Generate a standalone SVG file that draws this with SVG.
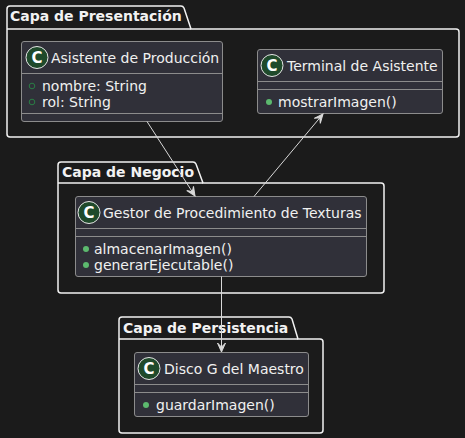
<svg xmlns="http://www.w3.org/2000/svg" width="465" height="438" viewBox="0 0 465 438">
<defs>
<style>
.bg{fill:#1b1b1b}
.pkg{fill:none;stroke:#f2f2f2;stroke-width:1.5}
.ptitle{font-family:"DejaVu Sans",sans-serif;font-size:14px;font-weight:bold;fill:#f2f2f2}
.cls{fill:#303039;stroke:#8c8c8c;stroke-width:1}
.sep{stroke:#8c8c8c;stroke-width:1}
.cname{font-family:"DejaVu Sans",sans-serif;font-size:14px;fill:#f0f0f0}
.mem{font-family:"DejaVu Sans",sans-serif;font-size:14px;fill:#f0f0f0}
.ci{fill:#1f4a2b;stroke:#e6e6e6;stroke-width:1}
.cl{font-family:"DejaVu Sans",sans-serif;font-size:15px;font-weight:bold;fill:#ffffff}
.fld{fill:none;stroke:#2a7d45;stroke-width:1}
.mth{fill:#5cb96e}
.edge{fill:none;stroke:#d8d8d8;stroke-width:1}
</style>
<marker id="ah" viewBox="-10 -5 11 10" refX="0" refY="0" markerWidth="11" markerHeight="10" markerUnits="userSpaceOnUse" orient="auto">
<path d="M0,0 L-9,-4 L-5,0 L-9,4 Z" fill="#d8d8d8" stroke="#d8d8d8" stroke-width="1"/>
</marker>
</defs>
<rect class="bg" x="0" y="0" width="465" height="438"/>

<g id="pkg-presentacion">
<path class="pkg" d="M10,6 H181 Q183,6 184,8 L191,29 H456 Q459,29 459,32 V134 Q459,137 456,137 H10 Q7,137 7,134 V9 Q7,6 10,6 Z"/>
<path class="pkg" d="M7,29 H191"/>
<text class="ptitle" x="10" y="21">Capa de Presentación</text>
</g>

<g id="pkg-negocio">
<path class="pkg" d="M61,162 H193 Q195,162 196,164 L203,183 H381 Q384,183 384,186 V290 Q384,293 381,293 H61 Q58,293 58,290 V165 Q58,162 61,162 Z"/>
<path class="pkg" d="M58,183 H203"/>
<text class="ptitle" x="62" y="177">Capa de Negocio</text>
</g>

<g id="pkg-persistencia">
<path class="pkg" d="M122,317 H289 Q291,317 292,319 L298,339 H320 Q323,339 323,342 V430 Q323,433 320,433 H122 Q119,433 119,430 V320 Q119,317 122,317 Z"/>
<path class="pkg" d="M119,339 H298"/>
<text class="ptitle" x="123" y="333">Capa de Persistencia</text>
</g>

<g id="asistente">
<rect class="cls" x="21.5" y="41.5" width="201" height="80" rx="2.5"/>
<line class="sep" x1="21.5" y1="73.5" x2="222.5" y2="73.5"/>
<line class="sep" x1="21.5" y1="113.5" x2="222.5" y2="113.5"/>
<circle class="ci" cx="37" cy="57.5" r="11"/>
<text class="cl" x="37" y="63" text-anchor="middle">C</text>
<text class="cname" x="51" y="63">Asistente de Producción</text>
<circle class="fld" cx="32" cy="86" r="2.8"/>
<text class="mem" x="42" y="91">nombre: String</text>
<circle class="fld" cx="32" cy="102" r="2.8"/>
<text class="mem" x="42" y="107">rol: String</text>
</g>

<g id="terminal">
<rect class="cls" x="257.5" y="49.5" width="185" height="64" rx="2.5"/>
<line class="sep" x1="257.5" y1="81.5" x2="442.5" y2="81.5"/>
<line class="sep" x1="257.5" y1="89.5" x2="442.5" y2="89.5"/>
<circle class="ci" cx="272" cy="65.5" r="11"/>
<text class="cl" x="272" y="71" text-anchor="middle">C</text>
<text class="cname" x="287" y="71">Terminal de Asistente</text>
<circle class="mth" cx="269" cy="102" r="3"/>
<text class="mem" x="278" y="107">mostrarImagen()</text>
</g>

<g id="gestor">
<rect class="cls" x="75.5" y="196.5" width="291" height="80" rx="2.5"/>
<line class="sep" x1="75.5" y1="228.5" x2="366.5" y2="228.5"/>
<line class="sep" x1="75.5" y1="236.5" x2="366.5" y2="236.5"/>
<circle class="ci" cx="89" cy="212.5" r="11"/>
<text class="cl" x="89" y="218" text-anchor="middle">C</text>
<text class="cname" x="103" y="218">Gestor de Procedimiento de Texturas</text>
<circle class="mth" cx="86" cy="249" r="3"/>
<text class="mem" x="94" y="254">almacenarImagen()</text>
<circle class="mth" cx="86" cy="265" r="3"/>
<text class="mem" x="94" y="270">generarEjecutable()</text>
</g>

<g id="disco">
<rect class="cls" x="134.5" y="352.5" width="174" height="64" rx="2.5"/>
<line class="sep" x1="134.5" y1="384.5" x2="308.5" y2="384.5"/>
<line class="sep" x1="134.5" y1="392.5" x2="308.5" y2="392.5"/>
<circle class="ci" cx="149" cy="368.5" r="11"/>
<text class="cl" x="149" y="374" text-anchor="middle">C</text>
<text class="cname" x="164" y="374">Disco G del Maestro</text>
<circle class="mth" cx="146" cy="405" r="3"/>
<text class="mem" x="156" y="410">guardarImagen()</text>
</g>

<g id="connectors">
<path class="edge" d="M147,121.5 L195,196" marker-end="url(#ah)"/>
<path class="edge" d="M254,196.5 L323,114" marker-end="url(#ah)"/>
<path class="edge" d="M221.5,276.5 L221.5,352" marker-end="url(#ah)"/>
</g>
</svg>
